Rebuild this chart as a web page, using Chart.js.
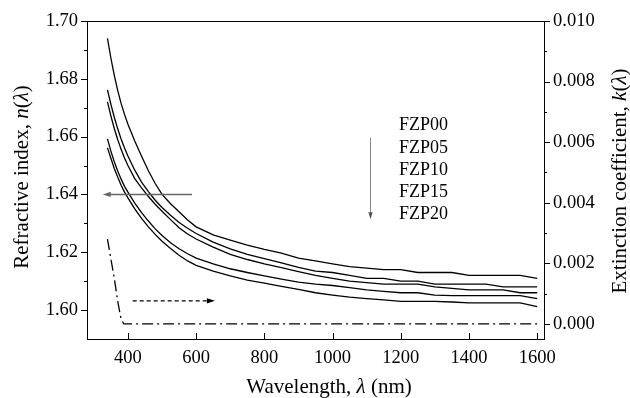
<!DOCTYPE html>
<html>
<head>
<meta charset="utf-8">
<script src="https://cdn.jsdelivr.net/npm/chart.js@4.4.0/dist/chart.umd.min.js"></script>
<style>
  html, body { margin: 0; padding: 0; background: #fff; }
  #wrap { width: 630px; height: 398px; }
</style>
</head>
<body>
<div id="wrap"><canvas id="chart" width="630" height="398"></canvas></div>
<script>
// wavelength grid (nm) shared by the n(λ) curves
const wavelength = [340, 350, 360, 370, 380, 390, 400, 420, 440, 460, 480, 500, 525, 550, 575, 600,
    650, 700, 750, 800, 850, 900, 950, 1000, 1050, 1100, 1150, 1200, 1250, 1300, 1350, 1400,
    1450, 1500, 1550, 1600];

const fzp00 = [1.6940, 1.6872, 1.6812, 1.6760, 1.6715, 1.6677, 1.6643, 1.6585, 1.6532, 1.6482, 1.6438, 1.6400,
    1.6368, 1.6340, 1.6312, 1.6288, 1.6260, 1.6242, 1.6225, 1.6210, 1.6197, 1.6180, 1.6170, 1.6160,
    1.6150, 1.6145, 1.6140, 1.6140, 1.6130, 1.6130, 1.6130, 1.6120, 1.6120, 1.6120, 1.6120, 1.6110];
const fzp05 = [1.6762, 1.6712, 1.6667, 1.6627, 1.6592, 1.6561, 1.6533, 1.6484, 1.6443, 1.6410, 1.6380, 1.6355,
    1.6328, 1.6303, 1.6283, 1.6265, 1.6235, 1.6212, 1.6193, 1.6178, 1.6163, 1.6148, 1.6135, 1.6130,
    1.6120, 1.6110, 1.6110, 1.6100, 1.6100, 1.6090, 1.6090, 1.6090, 1.6090, 1.6080, 1.6080, 1.6080];
const fzp10 = [1.6720, 1.6672, 1.6628, 1.6590, 1.6556, 1.6526, 1.6500, 1.6455, 1.6423, 1.6393, 1.6366, 1.6342,
    1.6313, 1.6285, 1.6263, 1.6246, 1.6218, 1.6193, 1.6175, 1.6160, 1.6147, 1.6133, 1.6120, 1.6110,
    1.6100, 1.6095, 1.6090, 1.6090, 1.6090, 1.6080, 1.6075, 1.6070, 1.6070, 1.6070, 1.6060, 1.6060];
const fzp15 = [1.6592, 1.6550, 1.6513, 1.6481, 1.6453, 1.6428, 1.6408, 1.6370, 1.6337, 1.6308, 1.6281, 1.6258,
    1.6233, 1.6212, 1.6195, 1.6180, 1.6160, 1.6143, 1.6130, 1.6118, 1.6107, 1.6097, 1.6090, 1.6085,
    1.6078, 1.6070, 1.6065, 1.6060, 1.6060, 1.6052, 1.6050, 1.6050, 1.6050, 1.6050, 1.6050, 1.6040];
const fzp20 = [1.6561, 1.6525, 1.6490, 1.6460, 1.6432, 1.6408, 1.6388, 1.6350, 1.6317, 1.6288, 1.6262, 1.6238,
    1.6213, 1.6190, 1.6170, 1.6155, 1.6135, 1.6118, 1.6104, 1.6093, 1.6082, 1.6072, 1.6060, 1.6052,
    1.6045, 1.6040, 1.6035, 1.6030, 1.6030, 1.6030, 1.6028, 1.6025, 1.6025, 1.6025, 1.6025, 1.6012];

// extinction coefficient k(λ), right axis
const kWavelength = [340, 350, 360, 370, 380, 388, 1600];
const kValues = [0.0028, 0.00215, 0.0015, 0.00075, 0.00015, 0, 0];

const sampleNames = ['FZP00', 'FZP05', 'FZP10', 'FZP15', 'FZP20'];
const nSeries = [fzp00, fzp05, fzp10, fzp15, fzp20];

// tick values
const xTicks = [400, 600, 800, 1000, 1200, 1400, 1600];
const nTicks = [1.60, 1.62, 1.64, 1.66, 1.68, 1.70];
const nMinor = [1.61, 1.63, 1.65, 1.67, 1.69];
const kTicks = [0.000, 0.002, 0.004, 0.006, 0.008, 0.010];
const kMinor = [0.001, 0.003, 0.005, 0.007, 0.009];

const serif = "'Liberation Serif', 'Times New Roman', serif";

const datasets = nSeries.map((vals, i) => ({
    label: sampleNames[i],
    data: wavelength.map((w, j) => ({ x: w, y: vals[j] })),
    yAxisID: 'y',
    showLine: true,
    borderColor: '#000',
    borderWidth: 1.3,
    pointRadius: 0,
    tension: 0
}));
datasets.push({
    label: 'k',
    data: kWavelength.map((w, j) => ({ x: w, y: kValues[j] })),
    yAxisID: 'y2',
    showLine: true,
    borderColor: '#000',
    borderWidth: 1.3,
    borderDash: [11, 4, 2, 4],
    pointRadius: 0,
    tension: 0
});

function richText(ctx, parts, x, y, size) {
    let total = 0;
    const widths = parts.map(p => {
        ctx.font = (p[1] ? 'italic ' : '') + size + 'px ' + serif;
        const w = ctx.measureText(p[0]).width;
        total += w;
        return w;
    });
    let cx = x - total / 2;
    parts.forEach((p, i) => {
        ctx.font = (p[1] ? 'italic ' : '') + size + 'px ' + serif;
        ctx.fillText(p[0], cx, y);
        cx += widths[i];
    });
}

function arrowHead(ctx, x, y, dx, dy, len, half) {
    const px = -dy, py = dx;
    ctx.beginPath();
    ctx.moveTo(x, y);
    ctx.lineTo(x - dx * len + px * half, y - dy * len + py * half);
    ctx.lineTo(x - dx * len - px * half, y - dy * len - py * half);
    ctx.closePath();
    ctx.fill();
}

// annotations in data units
const notes = {
    leftArrow: { from: 588, to: 326, n: 1.640 },
    rightArrow: { from: 414, to: 655, n: 1.6032 },
    downArrow: { lambda: 1110, from: 1.6596, to: 1.6314 },
    labelLambda: 1195,
    labelN: [1.6638, 1.6559, 1.6483, 1.6407, 1.6331]
};

const decorations = {
    id: 'decorations',
    afterDatasetsDraw(chart) {
        const { ctx, scales: { x, y } } = chart;
        ctx.save();
        // left arrow (n axis)
        let yy = y.getPixelForValue(notes.leftArrow.n);
        let x1 = x.getPixelForValue(notes.leftArrow.from), x2 = x.getPixelForValue(notes.leftArrow.to);
        ctx.strokeStyle = '#666'; ctx.fillStyle = '#666'; ctx.lineWidth = 1.6;
        ctx.beginPath(); ctx.moveTo(x1, yy); ctx.lineTo(x2 + 6, yy); ctx.stroke();
        arrowHead(ctx, x2, yy, -1, 0, 8, 2.6);
        // dashed arrow (k axis)
        yy = y.getPixelForValue(notes.rightArrow.n);
        x1 = x.getPixelForValue(notes.rightArrow.from); x2 = x.getPixelForValue(notes.rightArrow.to);
        ctx.strokeStyle = '#000'; ctx.fillStyle = '#000'; ctx.lineWidth = 1.2;
        ctx.setLineDash([4, 3]);
        ctx.beginPath(); ctx.moveTo(x1, yy); ctx.lineTo(x2 - 6, yy); ctx.stroke();
        ctx.setLineDash([]);
        arrowHead(ctx, x2, yy, 1, 0, 8, 2.6);
        // down arrow
        const xx = Math.round(x.getPixelForValue(notes.downArrow.lambda)) + 0.5;
        const y1 = y.getPixelForValue(notes.downArrow.from), y2 = y.getPixelForValue(notes.downArrow.to);
        ctx.strokeStyle = '#888'; ctx.fillStyle = '#555'; ctx.lineWidth = 1;
        ctx.beginPath(); ctx.moveTo(xx, y1); ctx.lineTo(xx, y2 - 5); ctx.stroke();
        arrowHead(ctx, xx, y2, 0, 1, 7, 2.2);
        // sample labels
        ctx.fillStyle = '#000';
        ctx.font = '18px ' + serif;
        ctx.textAlign = 'left';
        ctx.textBaseline = 'middle';
        const lx = x.getPixelForValue(notes.labelLambda);
        sampleNames.forEach((name, i) => ctx.fillText(name, lx, y.getPixelForValue(notes.labelN[i])));
        ctx.restore();
    }
};

const frame = {
    id: 'frame',
    afterDraw(chart) {
        const { ctx, chartArea: a, scales: { x, y, y2 } } = chart;
        ctx.save();
        ctx.strokeStyle = '#000';
        ctx.lineWidth = 1;
        ctx.beginPath();
        ctx.moveTo(a.left, a.top + 0.5); ctx.lineTo(a.right + 1, a.top + 0.5);
        const py = v => Math.round(y.getPixelForValue(v)) + 0.5;
        const pk = v => Math.round(y2.getPixelForValue(v)) + 0.5;
        nTicks.forEach(v => { ctx.moveTo(a.left - 6, py(v)); ctx.lineTo(a.left, py(v)); });
        nMinor.forEach(v => { ctx.moveTo(a.left - 3, py(v)); ctx.lineTo(a.left, py(v)); });
        kTicks.forEach(v => { ctx.moveTo(a.right, pk(v)); ctx.lineTo(a.right + 6, pk(v)); });
        kMinor.forEach(v => { ctx.moveTo(a.right, pk(v)); ctx.lineTo(a.right + 3, pk(v)); });
        xTicks.forEach(v => {
            const px = Math.round(x.getPixelForValue(v)) + 0.5;
            ctx.moveTo(px, a.bottom); ctx.lineTo(px, a.bottom - 6);
        });
        ctx.stroke();

        // axis titles with italic symbols
        ctx.fillStyle = '#000';
        ctx.textAlign = 'left';
        ctx.textBaseline = 'alphabetic';
        richText(ctx, [['Wavelength, ', false], ['\u03bb', true], [' (nm)', false]], 329, 393, 21);
        ctx.save();
        ctx.translate(28, 177);
        ctx.rotate(-Math.PI / 2);
        richText(ctx, [['Refractive index, ', false], ['n', true], ['(', false], ['\u03bb', true], [')', false]], 0, 0, 21);
        ctx.restore();
        ctx.save();
        ctx.translate(626, 181);
        ctx.rotate(-Math.PI / 2);
        richText(ctx, [['Extinction coefficient, ', false], ['k', true], ['(', false], ['\u03bb', true], [')', false]], 0, 0, 21);
        ctx.restore();
        ctx.restore();
    }
};

const tickFont = { family: serif, size: 18.5 };

new Chart(document.getElementById('chart'), {
    type: 'scatter',
    data: { datasets: datasets },
    options: {
        responsive: false,
        animation: false,
        devicePixelRatio: 1,
        layout: { padding: { top: 21, left: 0, right: 0, bottom: 0 } },
        plugins: { legend: { display: false }, tooltip: { enabled: false } },
        scales: {
            x: {
                type: 'linear',
                min: 280,
                max: 1620,
                afterFit: s => { s.height = 59; },
                afterBuildTicks: s => { s.ticks = xTicks.map(v => ({ value: v })); },
                grid: { display: false, drawTicks: false },
                border: { display: true, color: '#000', width: 1 },
                ticks: { font: tickFont, color: '#000', padding: 8, maxRotation: 0, callback: v => String(v) }
            },
            y: {
                position: 'left',
                min: 1.59,
                max: 1.70,
                afterFit: s => { s.width = 87; },
                afterBuildTicks: s => { s.ticks = nTicks.map(v => ({ value: v })); },
                grid: { display: false, drawTicks: false },
                border: { display: true, color: '#000', width: 1 },
                ticks: { font: tickFont, color: '#000', padding: 9, callback: v => v.toFixed(2) }
            },
            y2: {
                position: 'right',
                min: -0.0005,
                max: 0.010,
                afterFit: s => { s.width = 86; },
                afterBuildTicks: s => { s.ticks = kTicks.map(v => ({ value: v })); },
                grid: { display: false, drawTicks: false },
                border: { display: true, color: '#000', width: 1 },
                ticks: { font: tickFont, color: '#000', padding: 9, callback: v => v.toFixed(3) }
            }
        }
    },
    plugins: [decorations, frame]
});
</script>
</body>
</html>
